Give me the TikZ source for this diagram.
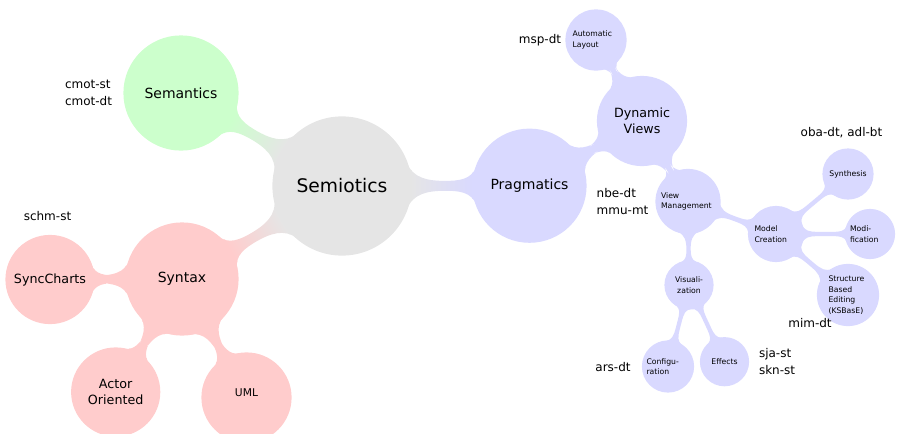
\documentclass[tikz,border=0pt]{standalone}
\usepackage{fontspec}
\setmainfont{DejaVu Sans}
\usetikzlibrary{mindmap,backgrounds}
\colorlet{semioticsfill}{black!10}
\colorlet{semanticsfill}{green!20}
\colorlet{syntaxfill}{red!20}
\colorlet{pragmaticsfill}{blue!15}
\begin{document}
\begin{tikzpicture}[x=1pt,y=-1pt,
  idea/.style={concept, circle, inner sep=0pt, text=black, minimum size=#1},
  hub/.style={font=\fontsize{18.7}{22}\selectfont},
  major/.style={font=\fontsize{14}{17}\selectfont},
  middle/.style={font=\fontsize{12.7}{16.5}\selectfont},
  small/.style={font=\fontsize{10.7}{13}\selectfont},
  minor/.style={font=\fontsize{7.7}{10.5}\selectfont},
  note/.style={font=\fontsize{12}{17}\selectfont, align=left, inner sep=0pt, outer sep=0pt, text=black},
  grey/.style={concept color=semioticsfill, fill=semioticsfill},
  green/.style={concept color=semanticsfill, fill=semanticsfill},
  red/.style={concept color=syntaxfill, fill=syntaxfill},
  blue/.style={concept color=pragmaticsfill, fill=pragmaticsfill},
  link/.style 2 args={circle connection bar switch color=from (#1) to (#2)},
]
\useasboundingbox (0,0) rectangle (898,434);

\begin{scope}[mindmap]
% root
\node[idea=138, grey, hub, text width=110, align=center] (semiotics) at (342,186) {Semiotics};

% main branches
\node[idea=114, green, major, text width=90, align=center] (semantics) at (181,93) {Semantics};
\node[idea=112, red, major, text width=90, align=center] (syntax) at (182,279) {Syntax};
\node[idea=113, blue, major, text width=90, align=center] (pragmatics) at (529.5,185.7) {Pragmatics};

% syntax branch
\node[idea=88, red, middle, text width=76, align=center] (syncharts) at (50,279.5) {SyncCharts};
\node[idea=88, red, middle, text width=64, align=center] (actor) at (115.7,392) {Actor\\Oriented};
\node[idea=89, red, small, text width=60, align=center, text depth=10] (uml) at (246.5,397.5) {UML};

% pragmatics branch
\node[idea=89, blue, middle, text width=64, align=center] (dynamic) at (642,121) {Dynamic\\Views};
\node[idea=60, blue, minor, text width=47, align=left] (autolayout) at (596,40) {Automatic\\Layout};
\node[idea=64, blue, minor, text width=54, align=left] (viewmgmt) at (688,201.5) {View\\Management};
\node[idea=55, blue, minor, text width=43, align=left] (modelcreation) at (776,234) {Model\\Creation};
\node[idea=50, blue, minor, text width=40, align=center] (synthesis) at (848,174) {Synthesis};
\node[idea=49, blue, minor, text width=40, align=left] (modification) at (870,234) {Modi-\\fication};
\node[idea=61, blue, minor, text width=39, align=left] (ksbase) at (848,295) {Structure\\Based\\Editing\\(KSBasE)};
\node[idea=48, blue, minor, text width=38, align=center] (visualization) at (689,285) {Visuali-\\zation};
\node[idea=51, blue, minor, text width=43, align=left] (configuration) at (668,366.5) {Configu-\\ration};
\node[idea=48, blue, minor, text width=38, align=center] (effects) at (724.5,361.7) {Effects};

% connection bars
\begin{scope}[on background layer]
  \path (semiotics) to[link={semioticsfill}{semanticsfill}] (semantics);
  \path (semiotics) to[link={semioticsfill}{syntaxfill}] (syntax);
  \path (semiotics) to[link={semioticsfill}{pragmaticsfill}] (pragmatics);
  \path (syntax) to[link={syntaxfill}{syntaxfill}] (syncharts);
  \path (syntax) to[link={syntaxfill}{syntaxfill}] (actor);
  \path (syntax) to[link={syntaxfill}{syntaxfill}] (uml);
  \path (pragmatics) to[link={pragmaticsfill}{pragmaticsfill}] (dynamic);
  \path (dynamic) to[link={pragmaticsfill}{pragmaticsfill}] (autolayout);
  \path (dynamic) to[link={pragmaticsfill}{pragmaticsfill}] (viewmgmt);
  \path (viewmgmt) to[link={pragmaticsfill}{pragmaticsfill}] (modelcreation);
  \path (viewmgmt) to[link={pragmaticsfill}{pragmaticsfill}] (visualization);
  \path (modelcreation) to[link={pragmaticsfill}{pragmaticsfill}] (synthesis);
  \path (modelcreation) to[link={pragmaticsfill}{pragmaticsfill}] (modification);
  \path (modelcreation) to[link={pragmaticsfill}{pragmaticsfill}] (ksbase);
  \path (visualization) to[link={pragmaticsfill}{pragmaticsfill}] (configuration);
  \path (visualization) to[link={pragmaticsfill}{pragmaticsfill}] (effects);
\end{scope}
\end{scope}

% annotations
\node[note] (msp) at (540,40) {msp-dt};
\node[note, anchor=west] (cmot) at (65,93) {cmot-st\\cmot-dt};
\node[note] (schm) at (47.5,215.7) {schm-st};
\node[note] (oba) at (841.5,132.7) {oba-dt, adl-bt};
\node[note, anchor=west] (nbe) at (596.7,202) {nbe-dt\\mmu-mt};
\node[note] (mim) at (810,323.3) {mim-dt};
\node[note] (ars) at (613,366.7) {ars-dt};
\node[note, anchor=west] (sja) at (759,362) {sja-st\\skn-st};
\end{tikzpicture}
\end{document}
